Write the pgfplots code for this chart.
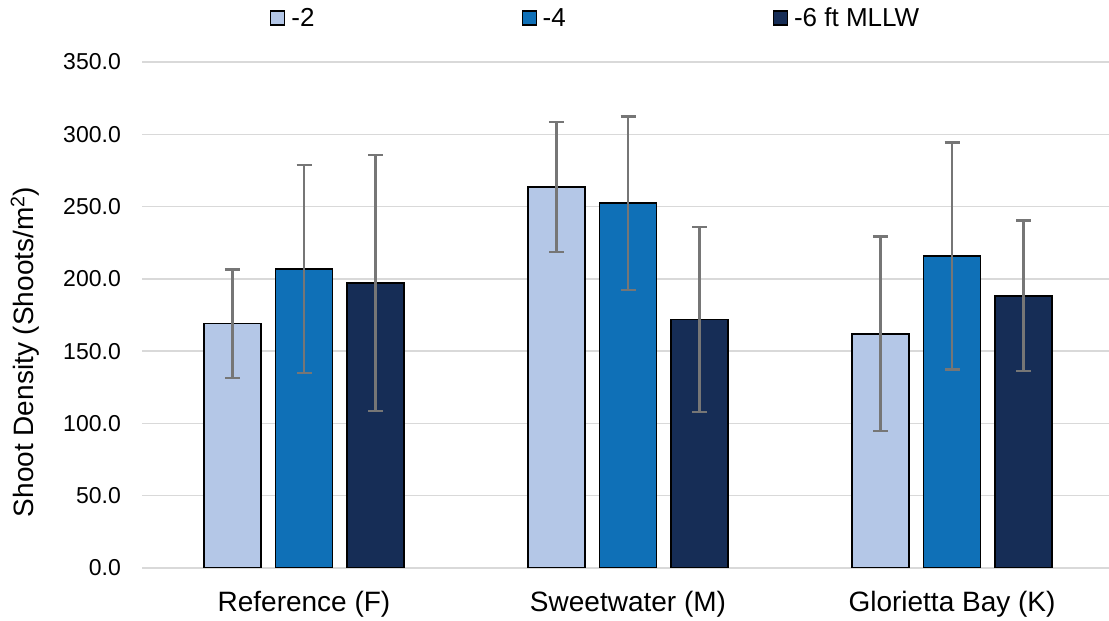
\documentclass[border=0pt]{standalone}
\usepackage{pgfplots}
\pgfplotsset{compat=1.18}
\usepackage{pgfplotstable}
\usepackage{fontspec}
\setmainfont{Liberation Sans}

\definecolor{lvlA}{HTML}{B4C7E7}
\definecolor{lvlB}{HTML}{0F70B7}
\definecolor{lvlC}{HTML}{162D56}
\definecolor{gridc}{HTML}{D9D9D9}
\definecolor{errc}{HTML}{767676}

% site index, mean shoot density, error
\pgfplotstableread{
x y err
0 169.0 37.5
1 263.5 45.0
2 162.0 67.3
}\depthA
\pgfplotstableread{
x y err
0 206.8 72.0
1 252.4 60.0
2 215.8 78.6
}\depthB
\pgfplotstableread{
x y err
0 197.1 88.4
1 172.0 64.0
2 188.3 52.0
}\depthC

\newcommand{\tickfont}{\fontsize{23bp}{28bp}\selectfont}
\newcommand{\catfont}{\fontsize{28bp}{33bp}\selectfont}
\newcommand{\legfont}{\fontsize{26bp}{31bp}\selectfont}

\pgfplotsset{
  densityerr/.style={
    error bars/y dir=both, error bars/y explicit,
    error bars/error bar style={errc, line width=2.3bp},
    error bars/error mark options={errc, line width=2.3bp, mark size=7.5bp, rotate=90},
  },
}

\begin{document}
\begin{tikzpicture}
\useasboundingbox (0,0) rectangle (1109bp,621bp);
\begin{axis}[
  at={(142bp,53bp)}, anchor=south west,
  scale only axis, width=972bp, height=506bp,
  ybar, bar width=0.176,
  xmin=-0.5, xmax=2.5, ymin=0, ymax=350,
  xtick={0,1,2},
  xticklabels={Reference (F), Sweetwater (M), Glorietta Bay (K)},
  ytick={0,50,...,350},
  major tick length=0pt,
  axis line style={draw=none},
  ymajorgrids, grid style={gridc, line width=1.3bp},
  /pgf/number format/assume math mode=true,
  yticklabel={\pgfmathprintnumber[fixed, fixed zerofill, precision=1]{\tick}},
  yticklabel style={font=\tickfont, anchor=east, inner sep=0pt, xshift=-21bp},
  xticklabel style={font=\catfont, anchor=base, inner sep=0pt, yshift=-43bp},
  ylabel={Shoot Density (Shoots/m\textsuperscript{2})},
  every axis y label/.style={at={(axis description cs:-0.1204,0.427)}, rotate=90, anchor=center, font=\catfont},
  legend columns=3,
  legend image code/.code={\draw[#1, line width=1.2bp] (0bp,-7bp) rectangle (14bp,7bp);},
  legend style={at={(axis description cs:0.1317,1.087)}, anchor=west, draw=none, fill=none,
    inner sep=0pt, font=\legfont, nodes={inner sep=0pt},
    /tikz/every odd column/.append style={column sep=6bp},
    /tikz/every even column/.append style={column sep=207bp}},
]
\addplot[fill=lvlA, draw=black, line width=1.6bp, bar shift=-0.221, densityerr]
  table[x=x, y=y, y error=err] {\depthA};
\addplot[fill=lvlB, draw=black, line width=1.6bp, bar shift=0, densityerr]
  table[x=x, y=y, y error=err] {\depthB};
\addplot[fill=lvlC, draw=black, line width=1.6bp, bar shift=0.221, densityerr]
  table[x=x, y=y, y error=err] {\depthC};
\legend{-2, -4, -6 ft MLLW}
\end{axis}
\end{tikzpicture}
\end{document}
